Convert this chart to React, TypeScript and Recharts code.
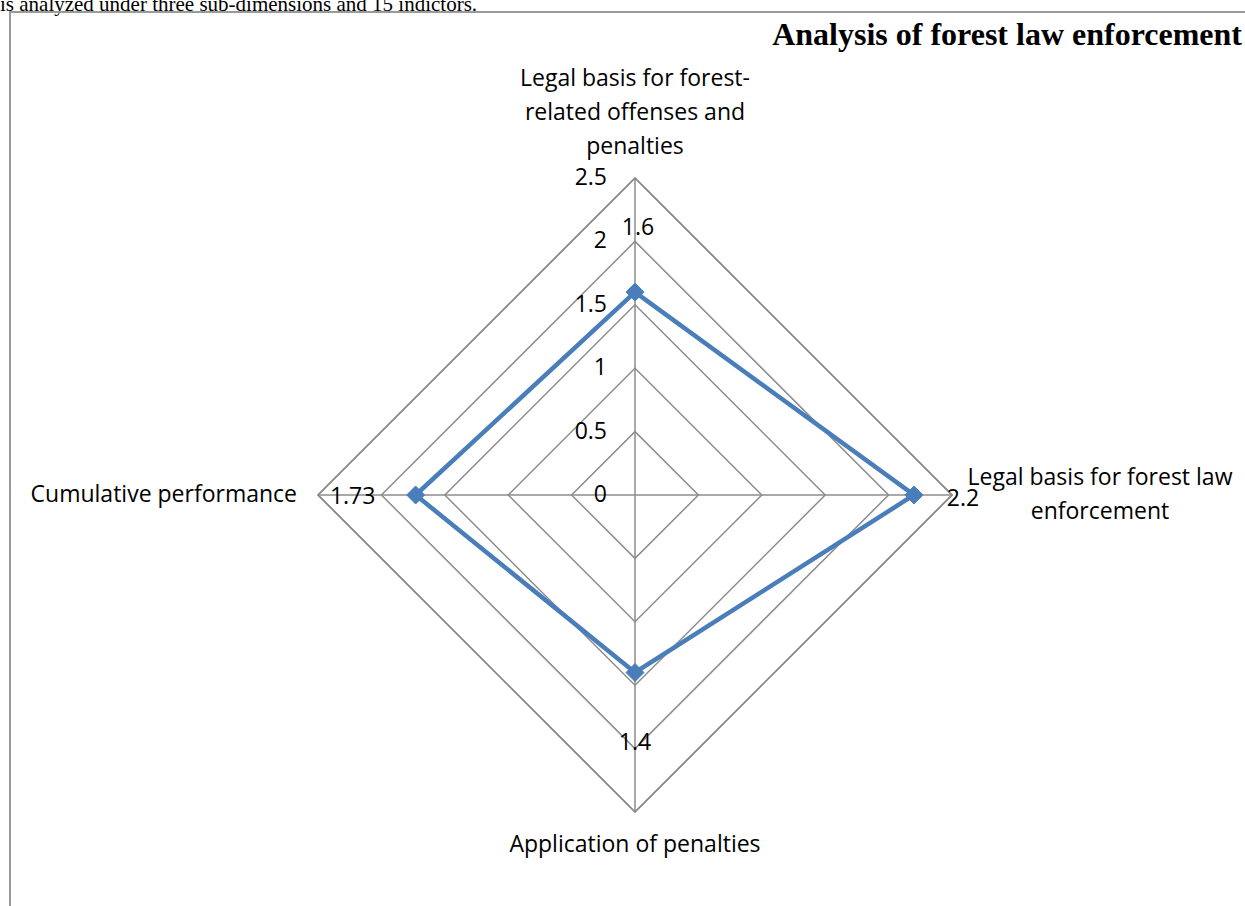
import { PolarAngleAxis, PolarGrid, PolarRadiusAxis, Radar, RadarChart, LabelList } from 'recharts';

const CATEGORIES = [
  'Legal basis for forest-related offenses and penalties',
  'Legal basis for forest law enforcement',
  'Application of penalties',
  'Cumulative performance',
];
const CATEGORY_LINES = [
  ['Legal basis for forest-', 'related offenses and', 'penalties'],
  ['Legal basis for forest law', 'enforcement'],
  ['Application of penalties'],
  ['Cumulative performance'],
];
const SCORES = [1.6, 2.2, 1.4, 1.73];
const SCORE_LABELS = ['1.6', '2.2', '1.4', '1.73'];
const RADIUS_MAX = 2.5;
const RADIUS_TICK_COUNT = 6; // 0, 0.5, 1, 1.5, 2, 2.5

const data = CATEGORIES.map((name, i) => ({ name, score: SCORES[i], label: SCORE_LABELS[i] }));

const FONT = '"Open Sans", Carlito, Lato, sans-serif';
const FS = 23;
const GRID = '#8c8c8c';
const SERIES = '#4a7ebb';

// label placement for each spoke (top, right, bottom, left)
const ANGLE_LABEL = [
  { dx: 0, dy: -93, anchor: 'middle' },
  { dx: 140, dy: -19, anchor: 'middle' },
  { dx: 0, dy: 23, anchor: 'middle' },
  { dx: -13, dy: -2, anchor: 'end' },
];
const VALUE_OFFSET = [
  [3, -66],
  [49, 2],
  [0, 68],
  [-63, 0],
];

function AngleTick(props: any) {
  const { x, y, index } = props;
  const cfg = ANGLE_LABEL[index];
  const lines = CATEGORY_LINES[index];
  return (
    <g>
      {lines.map((ln, k) => (
        <text
          key={k}
          x={x + cfg.dx}
          y={y + cfg.dy + k * 34}
          textAnchor={cfg.anchor}
          dominantBaseline="central"
          fontFamily={FONT}
          fontSize={FS}
          fill="#000"
        >
          {ln}
        </text>
      ))}
    </g>
  );
}

function RadiusTick(props: any) {
  const { x, y, payload } = props;
  return (
    <text
      x={x - 28}
      y={y - 2}
      textAnchor="end"
      dominantBaseline="central"
      fontFamily={FONT}
      fontSize={FS}
      fill="#000"
    >
      {payload.value}
    </text>
  );
}

function Diamond(props: any) {
  const { cx, cy } = props;
  if (cx == null || cy == null) return null;
  const s = 9;
  return (
    <path
      d={`M${cx},${cy - s}L${cx + s},${cy}L${cx},${cy + s}L${cx - s},${cy}Z`}
      fill={SERIES}
      stroke={SERIES}
    />
  );
}

function ValueLabel(props: any) {
  const { x, y, index } = props;
  const [dx, dy] = VALUE_OFFSET[index] || [0, 0];
  return (
    <text
      x={x + dx}
      y={y + dy}
      textAnchor="middle"
      dominantBaseline="central"
      fontFamily={FONT}
      fontSize={FS}
      fill="#000"
    >
      {SCORE_LABELS[index]}
    </text>
  );
}

export default function App() {
  return (
    <div style={{ position: 'absolute', left: 0, top: 0, width: 1245, height: 906, overflow: 'hidden', background: '#fff' }}>
      <div
        style={{
          position: 'absolute',
          left: 0,
          top: -8,
          fontFamily: '"Liberation Serif", "Times New Roman", serif',
          fontSize: 21,
          whiteSpace: 'nowrap',
        }}
      >
        is analyzed under three sub-dimensions and 15 indictors.
      </div>
      <div
        style={{
          position: 'absolute',
          left: 9,
          top: 11,
          width: 1300,
          height: 1000,
          border: '2px solid #9a9a9a',
        }}
      />
      <div
        style={{
          position: 'absolute',
          right: 3,
          top: 16,
          fontFamily: '"Liberation Serif", "Times New Roman", serif',
          fontWeight: 'bold',
          fontSize: 32,
          whiteSpace: 'nowrap',
        }}
      >
        Analysis of forest law enforcement
      </div>
      <div style={{ position: 'absolute', left: 0, top: 0 }}>
        <RadarChart
          width={1245}
          height={906}
          data={data}
          cx={635}
          cy={495}
          outerRadius={317}
          margin={{ top: 0, right: 0, bottom: 0, left: 0 }}
        >
          <PolarGrid gridType="polygon" stroke={GRID} strokeWidth={1.5} strokeOpacity={1} />
          <PolarAngleAxis
            dataKey="name"
            tick={<AngleTick />}
            tickLine={false}
            axisLine={{ stroke: GRID, strokeWidth: 1.5 }}
          />
          <PolarRadiusAxis
            angle={90}
            type="number"
            scale="linear"
            domain={[0, RADIUS_MAX]}
            tickCount={RADIUS_TICK_COUNT}
            allowDecimals
            allowDataOverflow
            tick={<RadiusTick />}
            axisLine={false}
            tickLine={false}
          />
          <Radar
            dataKey="score"
            stroke={SERIES}
            strokeWidth={4.5}
            fill="none"
            fillOpacity={0}
            dot={<Diamond />}
            isAnimationActive={false}
          >
            <LabelList dataKey="label" content={<ValueLabel />} />
          </Radar>
        </RadarChart>
      </div>
    </div>
  );
}
